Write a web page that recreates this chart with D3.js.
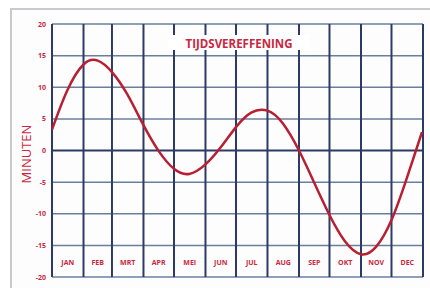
<!DOCTYPE html>
<html>
<head>
<meta charset="utf-8">
<script src="https://cdn.jsdelivr.net/npm/d3@7"></script>
<style>
  body { margin: 0; background: #fff; }
  text { font-family: "Open Sans", "DejaVu Sans", sans-serif; }
</style>
</head>
<body>
<div id="chart"></div>
<script>
// equation of time (clock minus sundial), 1st and 16th of each month
const days = [0, 15, 31, 45, 59, 74, 90, 105, 120, 135, 151, 166, 181, 196, 212, 227, 243, 258, 273, 288, 304, 319, 334, 349, 364];
const minutes = [3.3, 9.5, 13.6, 14.2, 12.4, 8.9, 4.0, -0.1, -2.9, -3.7, -2.2, 0.5, 3.7, 6.0, 6.3, 4.3, 0, -5.1, -10.2, -14.3, -16.4, -15.2, -11.0, -4.4, 2.9];

const months = ["JAN", "FEB", "MRT", "APR", "MEI", "JUN", "JUL", "AUG", "SEP", "OKT", "NOV", "DEC"];
const monthStarts = [0, 31, 59, 90, 120, 151, 181, 212, 243, 273, 304, 334, 365];
const yTicks = [20, 15, 10, 5, 0, -5, -10, -15, -20];

const width = 430, height = 288;
const red = "#c8283e";

const svg = d3.select("#chart").append("svg")
    .attr("width", width)
    .attr("height", height);

// outer frame
svg.append("rect")
    .attr("x", 11).attr("y", 9)
    .attr("width", 430).attr("height", 300)
    .attr("fill", "#fdfdfd")
    .attr("stroke", "#c9cacd")
    .attr("stroke-width", 2);

const x = d3.scaleLinear().domain([0, 365]).range([52, 423]);
const y = d3.scaleLinear().domain([-20, 20]).range([277, 24]);

// horizontal grid
svg.selectAll(".hgrid")
    .data(yTicks.filter(d => d != 0))
    .enter()
    .append("line")
    .attr("x1", x(0)).attr("x2", x(365))
    .attr("y1", d => y(d)).attr("y2", d => y(d))
    .attr("stroke", "#6a7f9c")
    .attr("stroke-width", 1.5);

// vertical grid (month boundaries)
svg.selectAll(".vgrid")
    .data(monthStarts)
    .enter()
    .append("line")
    .attr("x1", d => x(d)).attr("x2", d => x(d))
    .attr("y1", y(20)).attr("y2", y(-20))
    .attr("stroke", "#2e3a66")
    .attr("stroke-width", 2);

// zero line
svg.append("line")
    .attr("x1", x(0)).attr("x2", x(365))
    .attr("y1", y(0)).attr("y2", y(0))
    .attr("stroke", "#2e3a66")
    .attr("stroke-width", 2);

// y tick labels
svg.selectAll(".ylab")
    .data(yTicks)
    .enter()
    .append("text")
    .attr("x", 46)
    .attr("y", d => y(d) + 2.5)
    .attr("text-anchor", "end")
    .attr("font-size", 7)
    .attr("font-weight", "bold")
    .attr("fill", red)
    .text(d => d);

// month labels
svg.selectAll(".mlab")
    .data(months)
    .enter()
    .append("text")
    .attr("x", (d, i) => (x(monthStarts[i]) + x(monthStarts[i + 1])) / 2)
    .attr("y", 265)
    .attr("text-anchor", "middle")
    .attr("font-size", 7)
    .attr("font-weight", "bold")
    .attr("fill", red)
    .text(d => d);

// title with white box
svg.append("rect")
    .attr("x", 168).attr("y", 35)
    .attr("width", 142).attr("height", 15)
    .attr("fill", "#fff");
svg.append("text")
    .attr("x", 239)
    .attr("y", 48)
    .attr("text-anchor", "middle")
    .attr("font-size", 11.5)
    .attr("font-weight", "bold")
    .attr("fill", red)
    .text("TIJDSVEREFFENING");

// axis title
svg.append("text")
    .attr("transform", "translate(31,154) rotate(-90)")
    .attr("text-anchor", "middle")
    .attr("font-size", 13)
    .attr("fill", red)
    .text("MINUTEN");

// curve
const line = d3.line()
    .x((d, i) => x(days[i]))
    .y(d => y(d))
    .curve(d3.curveNatural);

svg.append("path")
    .attr("d", line(minutes))
    .attr("fill", "none")
    .attr("stroke", "#b81f33")
    .attr("stroke-width", 2.5);
</script>
</body>
</html>
